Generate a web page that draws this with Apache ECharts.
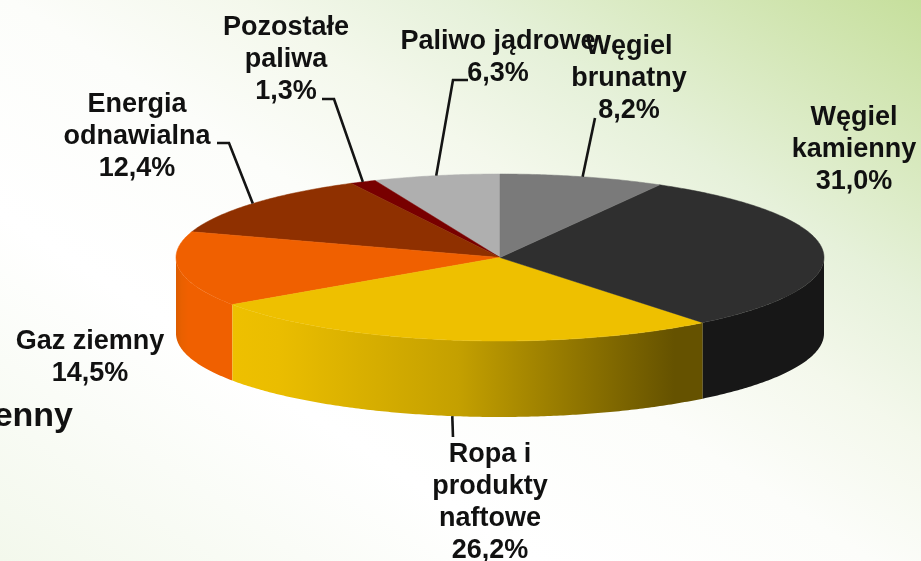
<!DOCTYPE html>
<html>
<head>
<meta charset="utf-8">
<style>html,body{margin:0;padding:0;background:#fff}#c{width:921px;height:561px}</style>
<script src="https://cdn.jsdelivr.net/npm/echarts@6/dist/echarts.min.js"></script>
</head>
<body>
<div id="c"></div>
<script>
// Data, clockwise from 12 o'clock
const categories = ['Węgiel\nbrunatny', 'Węgiel\nkamienny', 'Ropa i\nprodukty\nnaftowe', 'Gaz ziemny', 'Energia\nodnawialna', 'Pozostałe\npaliwa', 'Paliwo jądrowe'];
const shares = [8.2, 31.0, 26.2, 14.5, 12.4, 1.3, 6.3];
const strayText = 'enny';

// Styling and layout
const topColors = ['#7a7a7a', '#2f2f2f', '#eec000', '#f06000', '#8f3000', '#780000', '#afafaf'];
const wallFills = [
  null,
  '#171717',
  [[0, '#eec000'], [0.1, '#eabd00'], [0.48, '#c4a000'], [0.94, '#655200'], [1, '#655200']],
  [[0, '#dc5c00'], [0.1, '#e96000'], [0.22, '#f06000'], [1, '#f06000']],
  null, null, null
];
const labelCentres = [[629, 79], [854, 149.5], [490, 503], [90, 358], [137, 136.5], [286, 60], [498, 58]];
const leaderBends = [[[595, 118]], null, [[453, 437]], null, [[229, 143], [217, 143]], [[334, 99], [322, 99]], [[453, 80], [468, 80]]];
const drawOrder = [6, 5, 4, 3, 2, 1, 0];
const pie = {cx: 500, cy: 257.5, rx: 324, ry: 83.5, depth: 76};
const fontBase = 'Liberation Sans, Arial, sans-serif';

const total = shares.reduce((a, b) => a + b, 0);
const edgeAngles = [0];
shares.forEach((v, i) => edgeAngles.push(edgeAngles[i] + v / total * Math.PI * 2));
const pt = (t, dy = 0) => [pie.cx + pie.rx * Math.sin(t), pie.cy - pie.ry * Math.cos(t) + dy];
function arc(a, b, dy) {
  const n = Math.max(2, Math.ceil((b - a) / 0.01)), out = [];
  for (let k = 0; k <= n; k++) out.push(pt(a + (b - a) * k / n, dy));
  return out;
}
function fillOf(spec) {
  if (!Array.isArray(spec)) return spec;
  return {type: 'linear', x: 0, y: 0, x2: 1, y2: 0,
    colorStops: spec.map(s => ({offset: s[0], color: s[1]}))};
}
function renderSlice(params, api) {
  const i = api.value(0), a = edgeAngles[i], b = edgeAngles[i + 1], kids = [];
  // the side wall only exists on the front half of the disc
  const wa = Math.max(a, Math.PI / 2), wb = Math.min(b, Math.PI * 1.5);
  if (wb > wa && wallFills[i]) {
    const front = arc(wa, wb, 0), back = arc(wa, wb, pie.depth).reverse();
    kids.push({type: 'polygon', shape: {points: front.concat(back)},
      style: {fill: fillOf(wallFills[i]), stroke: null}});
  }
  kids.push({type: 'polygon', shape: {points: [[pie.cx, pie.cy]].concat(arc(a, b, 0))},
    style: {fill: topColors[i], stroke: topColors[i], lineWidth: 0.5}, z2: 5});
  // leader line, anchored on the slice's mid-angle
  if (leaderBends[i]) {
    const m = (a + b) / 2;
    const wallDrop = Math.cos(m) < 0 ? pie.depth : 0;
    kids.push({type: 'polyline',
      shape: {points: [pt(m, wallDrop)].concat(leaderBends[i])},
      style: {fill: null, stroke: '#141414', lineWidth: 2.6}, z2: 8});
  }
  const label = categories[i] + '\n' + shares[i].toFixed(1).replace('.', ',') + '%';
  kids.push({type: 'text', x: labelCentres[i][0], y: labelCentres[i][1], z2: 10 + drawOrder.indexOf(i),
    style: {text: label, fill: '#111111', font: 'bold 27px ' + fontBase, align: 'center',
      verticalAlign: 'middle', lineHeight: 32}});
  return {type: 'group', children: kids};
}

const chart = echarts.init(document.getElementById('c'), null, {renderer: 'canvas'});
chart.setOption({
  animation: false,
  backgroundColor: {type: 'linear', global: true, x: 0, y: 561, x2: 530, y2: -254,
    colorStops: [
      {offset: 0, color: '#f3f8ec'},
      {offset: 0.3, color: '#ffffff'},
      {offset: 0.49, color: '#fcfdfa'},
      {offset: 0.62, color: '#f4f8ec'},
      {offset: 0.74, color: '#e6f1da'},
      {offset: 1, color: '#c6df9c'}
    ]},
  graphic: [{type: 'text', x: 73, y: 417, z: 1,
    style: {text: strayText, fill: '#111111', font: 'bold 34px ' + fontBase, align: 'right', verticalAlign: 'middle'}}],
  series: [{
    type: 'custom',
    coordinateSystem: 'none',
    clip: false,
    silent: true,
    data: categories.map((c, i) => [i, shares[i]]).sort((p, q) => drawOrder.indexOf(p[0]) - drawOrder.indexOf(q[0])),
    renderItem: renderSlice
  }]
});
</script>
</body>
</html>
